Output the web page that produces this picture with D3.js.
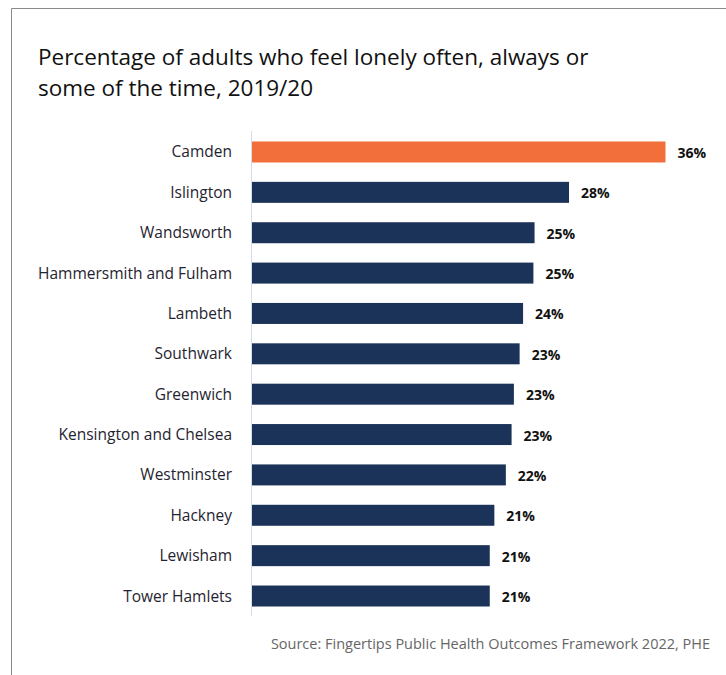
<!DOCTYPE html>
<html>
<head>
<meta charset="utf-8">
<script src="https://cdn.jsdelivr.net/npm/d3@7"></script>
<style>
  body { margin: 0; background: #fff; }
  svg { display: block; font-family: "Open Sans", sans-serif; }
</style>
</head>
<body>
<div id="chart"></div>
<script>
// Dữ liệu
const boroughs = ["Camden", "Islington", "Wandsworth", "Hammersmith and Fulham", "Lambeth",
  "Southwark", "Greenwich", "Kensington and Chelsea", "Westminster", "Hackney", "Lewisham", "Tower Hamlets"];
const lonelyPct = [36, 27.6, 24.6, 24.5, 23.6, 23.3, 22.8, 22.6, 22.1, 21.1, 20.7, 20.7];
const highlight = "Camden";
const titleLines = ["Percentage of adults who feel lonely often, always or", "some of the time, 2019/20"];
const sourceText = "Source: Fingertips Public Health Outcomes Framework 2022, PHE";

const width = 726, height = 675;
const data = boroughs.map((name, i) => ({ name, value: lonelyPct[i] }));

const svg = d3.select("#chart").append("svg")
  .attr("width", width)
  .attr("height", height);

// Khung
svg.append("path")
  .attr("d", `M11.5,${height} V8.5 H${width}`)
  .attr("fill", "none")
  .attr("stroke", "#8a8a8a")
  .attr("stroke-width", 1);

// Tiêu đề (hai dòng)
svg.selectAll(".title")
  .data(titleLines)
  .enter()
  .append("text")
  .attr("class", "title")
  .attr("x", 38)
  .attr("y", (d, i) => 65 + i * 30.8)
  .style("font-size", "22.5px")
  .style("fill", "#111")
  .text(d => d);

// Thang đo
const x = d3.scaleLinear().domain([0, 36]).range([252, 665.5]);
const y = d3.scaleBand()
  .domain(boroughs)
  .range([131, 617])
  .paddingInner(0.48)
  .paddingOuter(0.26);

// Trục dọc
svg.append("line")
  .attr("x1", 251.5).attr("x2", 251.5)
  .attr("y1", 131).attr("y2", 616)
  .attr("stroke", "#d5dce8")
  .attr("stroke-width", 1);

// Nhãn danh mục
svg.selectAll(".cat")
  .data(data)
  .enter()
  .append("text")
  .attr("class", "cat")
  .attr("x", 232)
  .attr("y", d => y(d.name) + y.bandwidth() / 2 + 5.5)
  .attr("text-anchor", "end")
  .style("font-size", "15.5px")
  .style("fill", "#1f2430")
  .text(d => d.name);

// Cột
svg.selectAll(".bar")
  .data(data)
  .enter()
  .append("rect")
  .attr("class", "bar")
  .attr("x", x(0))
  .attr("y", d => y(d.name))
  .attr("width", d => x(d.value) - x(0))
  .attr("height", y.bandwidth())
  .attr("fill", d => d.name === highlight ? "#f26e3b" : "#1b3358");

// Nhãn giá trị
svg.selectAll(".val")
  .data(data)
  .enter()
  .append("text")
  .attr("class", "val")
  .attr("x", d => x(d.value) + 12)
  .attr("y", d => y(d.name) + y.bandwidth() / 2 + 6)
  .style("font-size", "14px")
  .style("font-weight", "bold")
  .style("fill", "#111")
  .text(d => `${Math.round(d.value)}%`);

// Nguồn
svg.append("text")
  .attr("x", 710)
  .attr("y", 649)
  .attr("text-anchor", "end")
  .style("font-size", "14.5px")
  .style("fill", "#666")
  .text(sourceText);
</script>
</body>
</html>
